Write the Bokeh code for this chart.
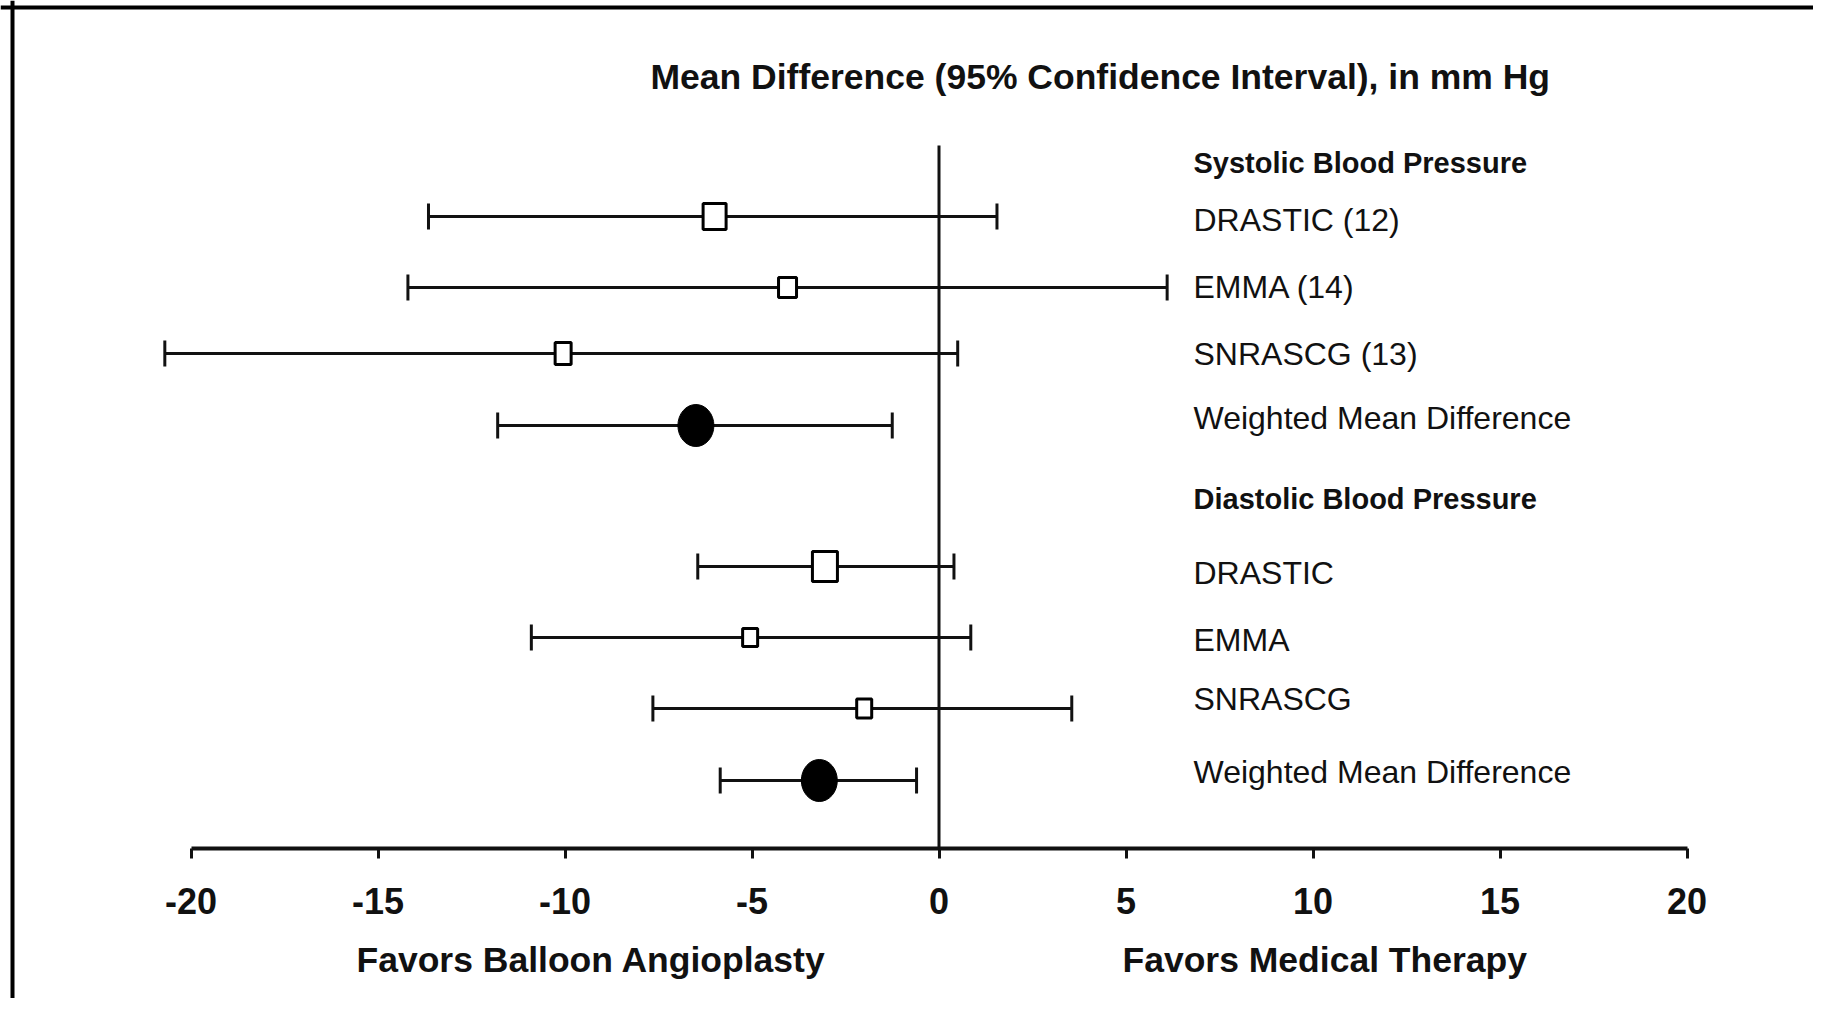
from bokeh.plotting import figure
from bokeh.models import Range1d, LinearAxis, FixedTicker, Span
from bokeh.core.properties import value
from bokeh.embed import file_html
from bokeh.resources import INLINE

# ---------------- data ----------------
title_text = "Mean Difference (95% Confidence Interval), in mm Hg"
groups = ["Systolic Blood Pressure", "Diastolic Blood Pressure"]
sys_labels = ["DRASTIC (12)", "EMMA (14)", "SNRASCG (13)", "Weighted Mean Difference"]
dia_labels = ["DRASTIC", "EMMA", "SNRASCG", "Weighted Mean Difference"]
sys_mean = [-6.0, -4.05, -10.05, -6.5]
sys_lo = [-13.65, -14.2, -20.7, -11.8]
sys_hi = [1.55, 6.1, 0.5, -1.25]
dia_mean = [-3.05, -5.05, -2.0, -3.2]
dia_lo = [-6.45, -10.9, -7.65, -5.85]
dia_hi = [0.4, 0.85, 3.55, -0.6]
is_pooled = [False, False, False, True]
tick_values = [-20, -15, -10, -5, 0, 5, 10, 15, 20]
tick_labels = ["-20", "-15", "-10", "-5", "0", "5", "10", "15", "20"]
side_labels = ["Favors Balloon Angioplasty", "Favors Medical Therapy"]

# ---------------- layout (pixels) ----------------
W, H = 1813, 998
X0_PX = 938.5      # x pixel of value 0
PPU = 37.4         # pixels per mm Hg
def px2x(px):
    return (px - X0_PX) / PPU

TEXT_DY = -13      # correction from wanted baseline to glyph anchor
row_y = [[216, 287, 353, 425], [566, 637, 708, 780]]
label_base = [[232, 299, 366, 430], [585, 652, 711, 784]]
head_base = [175, 511]
label_x_px = 1193
axis_y = 848
zero_top = 145
box_w = [[23, 18, 16], [25, 15, 15]]
box_h = [[26, 20, 22], [30, 18, 19]]
FONT = value("Liberation Sans")
INK = "#111111"

p = figure(width=W, height=H, output_backend="svg", toolbar_location=None,
           x_range=Range1d(px2x(0), px2x(W)), y_range=Range1d(H, 0),
           x_axis_type=None, y_axis_type=None, min_border=0,
           min_border_left=0, min_border_right=0, min_border_top=0, min_border_bottom=0)
p.outline_line_color = None
p.background_fill_color = "white"
p.border_fill_color = "white"

# frame border (left and top)
p.add_layout(Span(location=px2x(12), dimension="height", line_color="black", line_width=4))
p.add_layout(Span(location=7, dimension="width", line_color="black", line_width=4))

# zero line
p.segment(x0=[0], y0=[zero_top], x1=[0], y1=[axis_y], line_color=INK, line_width=3)

# x axis
ax = LinearAxis(fixed_location=axis_y, bounds=(-20, 20))
ax.ticker = FixedTicker(ticks=tick_values)
ax.major_label_overrides = {v: l for v, l in zip(tick_values, tick_labels)}
ax.axis_line_color = INK
ax.axis_line_width = 4
ax.major_tick_line_color = INK
ax.major_tick_line_width = 3
ax.major_tick_out = 10
ax.major_tick_in = 0
ax.minor_tick_out = 0
ax.minor_tick_in = 0
ax.major_label_standoff = 29
ax.major_label_text_font = "Liberation Sans"
ax.major_label_text_font_style = "bold"
ax.major_label_text_font_size = "36px"
ax.major_label_text_color = INK
p.add_layout(ax, "below")

means = [sys_mean, dia_mean]
los = [sys_lo, dia_lo]
his = [sys_hi, dia_hi]
labels = [sys_labels, dia_labels]
cap_half = 13

for g in range(2):
    ys = row_y[g]
    # CI lines and caps
    p.segment(x0=los[g], y0=ys, x1=his[g], y1=ys, line_color=INK, line_width=3)
    p.segment(x0=los[g], y0=[y - cap_half for y in ys], x1=los[g], y1=[y + cap_half for y in ys],
              line_color=INK, line_width=3)
    p.segment(x0=his[g], y0=[y - cap_half for y in ys], x1=his[g], y1=[y + cap_half for y in ys],
              line_color=INK, line_width=3)
    # study boxes
    sx = [m for m, pooled in zip(means[g], is_pooled) if not pooled]
    sy = [y for y, pooled in zip(ys, is_pooled) if not pooled]
    p.rect(x=sx, y=sy, width=box_w[g], height=box_h[g], width_units="screen", height_units="screen",
           fill_color="white", line_color="black", line_width=3)
    # pooled estimate
    px_ = [m for m, pooled in zip(means[g], is_pooled) if pooled]
    py_ = [y for y, pooled in zip(ys, is_pooled) if pooled]
    p.ellipse(x=px_, y=py_, width=36, height=42, width_units="screen", height_units="screen",
              fill_color="black", line_color="black")
    # labels
    p.text(x=[px2x(label_x_px)] * 4, y=[b + TEXT_DY for b in label_base[g]], text=labels[g],
           text_font=FONT, text_font_size="32px", text_color=INK,
           text_align="left", text_baseline="alphabetic")
    p.text(x=[px2x(label_x_px)], y=[head_base[g] + TEXT_DY], text=[groups[g]], text_font=FONT,
           text_font_size="29px", text_font_style="bold", text_color=INK,
           text_align="left", text_baseline="alphabetic")

# title
p.text(x=[px2x(650)], y=[89 + TEXT_DY], text=[title_text], text_font=FONT, text_font_size="35.5px",
       text_font_style="bold", text_color=INK, text_align="left", text_baseline="alphabetic")

# favors labels
p.text(x=[px2x(356), px2x(1122)], y=[972 + TEXT_DY] * 2, text=side_labels, text_font=FONT,
       text_font_size="35.5px", text_font_style="bold", text_color=INK,
       text_align="left", text_baseline="alphabetic")

open("out.html", "w").write(file_html(p, INLINE))
